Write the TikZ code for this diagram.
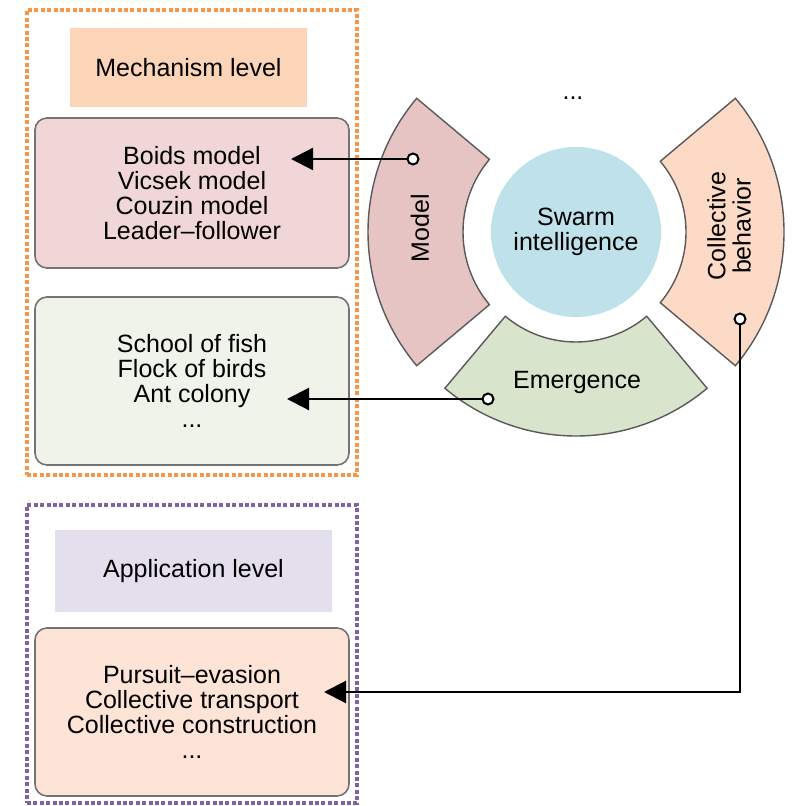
\documentclass[tikz,border=0pt]{standalone}
\usepackage{fontspec}
\setmainfont{Liberation Sans}
\usetikzlibrary{arrows.meta}

\definecolor{mechorange}{HTML}{F79646}
\definecolor{apppurple}{HTML}{8064A2}
\definecolor{mechpeach}{HTML}{FCD5B8}
\definecolor{applav}{HTML}{E4DFEC}
\definecolor{modelbox}{HTML}{F0D6D6}
\definecolor{emergbox}{HTML}{EFF3E9}
\definecolor{appbox}{HTML}{FDE4D6}
\definecolor{modelpink}{HTML}{E6C4C4}
\definecolor{emergreen}{HTML}{D8E4CC}
\definecolor{behpeach}{HTML}{FCDAC6}
\definecolor{swarmblue}{HTML}{BFE1EA}

\begin{document}
\begin{tikzpicture}[x=0.5pt, y=-0.5pt,
		font=\fontsize{12.5}{12.6}\selectfont,
		levelframe/.style={draw, dash pattern=on 2pt off 1.2pt, line width=1.6pt, minimum width=165pt, inner sep=0pt},
		levelbox/.style={inner sep=0pt},
		listbox/.style={draw=black!55, rounded corners=6pt, line width=0.8pt, align=center, minimum width=157pt, inner sep=0pt},
		ringpart/.style={draw=black!65, line width=0.7pt},
		pinmark/.style={circle, draw, fill=white, line width=1pt, minimum size=5.5pt, inner sep=0pt},
		link/.style={line width=1.1pt, -{Triangle[length=11pt, width=11pt]}}]

	\useasboundingbox (0,0) rectangle (792,806);

	% Nivel de mecanismo
	\node[levelframe, draw=mechorange, minimum height=232.5pt] (mechframe) at (192,242.5) {};
	\node[levelbox, fill=mechpeach, minimum width=118.5pt, minimum height=39.5pt] (mechlabel) at (188.5,67.5) {Mechanism level};
	\node[listbox, fill=modelbox, minimum height=75pt] (models) at (192,193) {Boids model\\Vicsek model\\Couzin model\\Leader–follower};
	\node[listbox, fill=emergbox, minimum height=84pt] (swarms) at (192,381) {School of fish\\Flock of birds\\Ant colony\\...};

	% Nivel de aplicacion
	\node[levelframe, draw=apppurple, minimum height=149pt] (appframe) at (192,654) {};
	\node[levelbox, fill=applav, minimum width=138.5pt, minimum height=41pt] (applabel) at (193.5,571) {Application level};
	\node[listbox, fill=appbox, minimum height=84pt] (tasks) at (192,712) {Pursuit–evasion\\Collective transport\\Collective construction\\...};

	% Anillo
	\node[circle, fill=swarmblue, minimum size=85pt, inner sep=0pt, align=center] (swarm) at (576,232) {Swarm\\intelligence};
	\begin{scope}[shift={(576,232)}]
		\draw[ringpart, fill=modelpink] (140:56.5pt) -- (140:104pt) arc[start angle=140, end angle=220, radius=104pt] -- (220:56.5pt) arc[start angle=220, end angle=140, radius=56.5pt] -- cycle;
		\draw[ringpart, fill=emergreen] (-130:55pt) -- (-130:102pt) arc[start angle=-130, end angle=-50, radius=102pt] -- (-50:55pt) arc[start angle=-50, end angle=-130, radius=55pt] -- cycle;
		\draw[ringpart, fill=behpeach] (-40:55pt) -- (-40:104pt) arc[start angle=-40, end angle=40, radius=104pt] -- (40:55pt) arc[start angle=40, end angle=-40, radius=55pt] -- cycle;
	\end{scope}

	\node[rotate=90] (model) at (420,228) {Model};
	\node[rotate=90, align=center] (behavior) at (729,226) {Collective\\behavior};
	\node (emergence) at (577,382) {Emergence};
	\node (more) at (573,98) {...};

	% Conectores
	\node[pinmark] (modelpin) at (413,159) {};
	\node[pinmark] (emergpin) at (488,399) {};
	\node[pinmark] (behpin) at (740,319) {};
	\coordinate (modeltip) at (291,159);
	\coordinate (emergtip) at (287,399);
	\coordinate (apptip) at (324,692);

	\draw[link] (modelpin) -- (modeltip);
	\draw[link] (emergpin) -- (emergtip);
	\draw[link] (behpin) |- (apptip);

\end{tikzpicture}
\end{document}
